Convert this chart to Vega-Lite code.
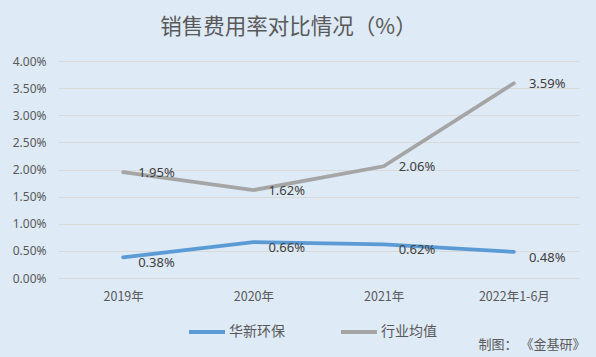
{
  "$schema": "https://vega.github.io/schema/vega-lite/v6.json",
  "autosize": {"type": "none"},
  "width": 521,
  "height": 217,
  "padding": {"left": 58, "top": 61, "right": 17, "bottom": 79},
  "background": "#DEEAF6",
  "config": {
    "view": {"stroke": null},
    "font": "Noto Sans CJK SC"
  },
  "title": {
    "text": "销售费用率对比情况（%）",
    "fontSize": 21.5,
    "fontWeight": "normal",
    "color": "#595959",
    "font": "Noto Sans CJK SC",
    "anchor": "middle",
    "dx": -30,
    "offset": 17
  },
  "data": {
    "values": [
      {"year": "2019年", "series": "华新环保", "value": 0.0038},
      {"year": "2020年", "series": "华新环保", "value": 0.0066},
      {"year": "2021年", "series": "华新环保", "value": 0.0062},
      {"year": "2022年1-6月", "series": "华新环保", "value": 0.0048},
      {"year": "2019年", "series": "行业均值", "value": 0.0195},
      {"year": "2020年", "series": "行业均值", "value": 0.0162},
      {"year": "2021年", "series": "行业均值", "value": 0.0206},
      {"year": "2022年1-6月", "series": "行业均值", "value": 0.0359}
    ]
  },
  "encoding": {
    "x": {
      "field": "year",
      "type": "ordinal",
      "sort": null,
      "scale": {"type": "point", "padding": 0.5},
      "axis": {
        "labelAngle": 0,
        "labelFont": "Noto Sans CJK SC",
        "labelFontSize": 12.5,
        "labelColor": "#595959",
        "labelPadding": 12,
        "ticks": false,
        "domain": false,
        "grid": false,
        "title": "制图： 《金基研》",
        "titleFont": "Noto Sans CJK SC",
        "titleFontSize": 13,
        "titleFontWeight": "normal",
        "titleColor": "#595959",
        "titleAlign": "right",
        "titleX": 527,
        "titleY": 66,
        "titleBaseline": "middle"
      }
    },
    "y": {
      "field": "value",
      "type": "quantitative",
      "scale": {"domain": [0, 0.04]},
      "axis": {
        "format": ".2%",
        "values": [0, 0.005, 0.01, 0.015, 0.02, 0.025, 0.03, 0.035, 0.04],
        "labelOverlap": false,
        "labelFont": "Noto Sans",
        "labelFontSize": 12,
        "labelColor": "#595959",
        "labelPadding": 12,
        "ticks": false,
        "domain": false,
        "gridColor": "#D9D9D9",
        "gridWidth": 1,
        "title": null
      }
    },
    "color": {
      "field": "series",
      "type": "nominal",
      "sort": ["华新环保", "行业均值"],
      "scale": {"domain": ["华新环保", "行业均值"], "range": ["#5B9BD5", "#A5A5A5"]},
      "legend": {
        "orient": "none",
        "legendX": 129,
        "legendY": 251,
        "direction": "horizontal",
        "title": null,
        "symbolType": "stroke",
        "symbolSize": 1296,
        "symbolStrokeWidth": 4,
        "labelFont": "Noto Sans CJK SC",
        "labelFontSize": 14,
        "labelColor": "#595959",
        "labelOffset": 2,
        "columnPadding": 48
      }
    }
  },
  "layer": [
    {
      "mark": {"type": "line", "strokeWidth": 3.75, "strokeCap": "round"}
    },
    {
      "transform": [{"filter": "datum.series === '行业均值'"}],
      "mark": {"type": "text", "align": "left", "baseline": "middle", "dx": 15, "dy": 1, "font": "Noto Sans", "fontSize": 13, "color": "#404040"},
      "encoding": {
        "text": {"field": "value", "type": "quantitative", "format": ".2%"},
        "color": {"value": "#404040"}
      }
    },
    {
      "transform": [{"filter": "datum.series === '华新环保'"}],
      "mark": {"type": "text", "align": "left", "baseline": "middle", "dx": 15, "dy": 6, "font": "Noto Sans", "fontSize": 13, "color": "#404040"},
      "encoding": {
        "text": {"field": "value", "type": "quantitative", "format": ".2%"},
        "color": {"value": "#404040"}
      }
    }
  ]
}
